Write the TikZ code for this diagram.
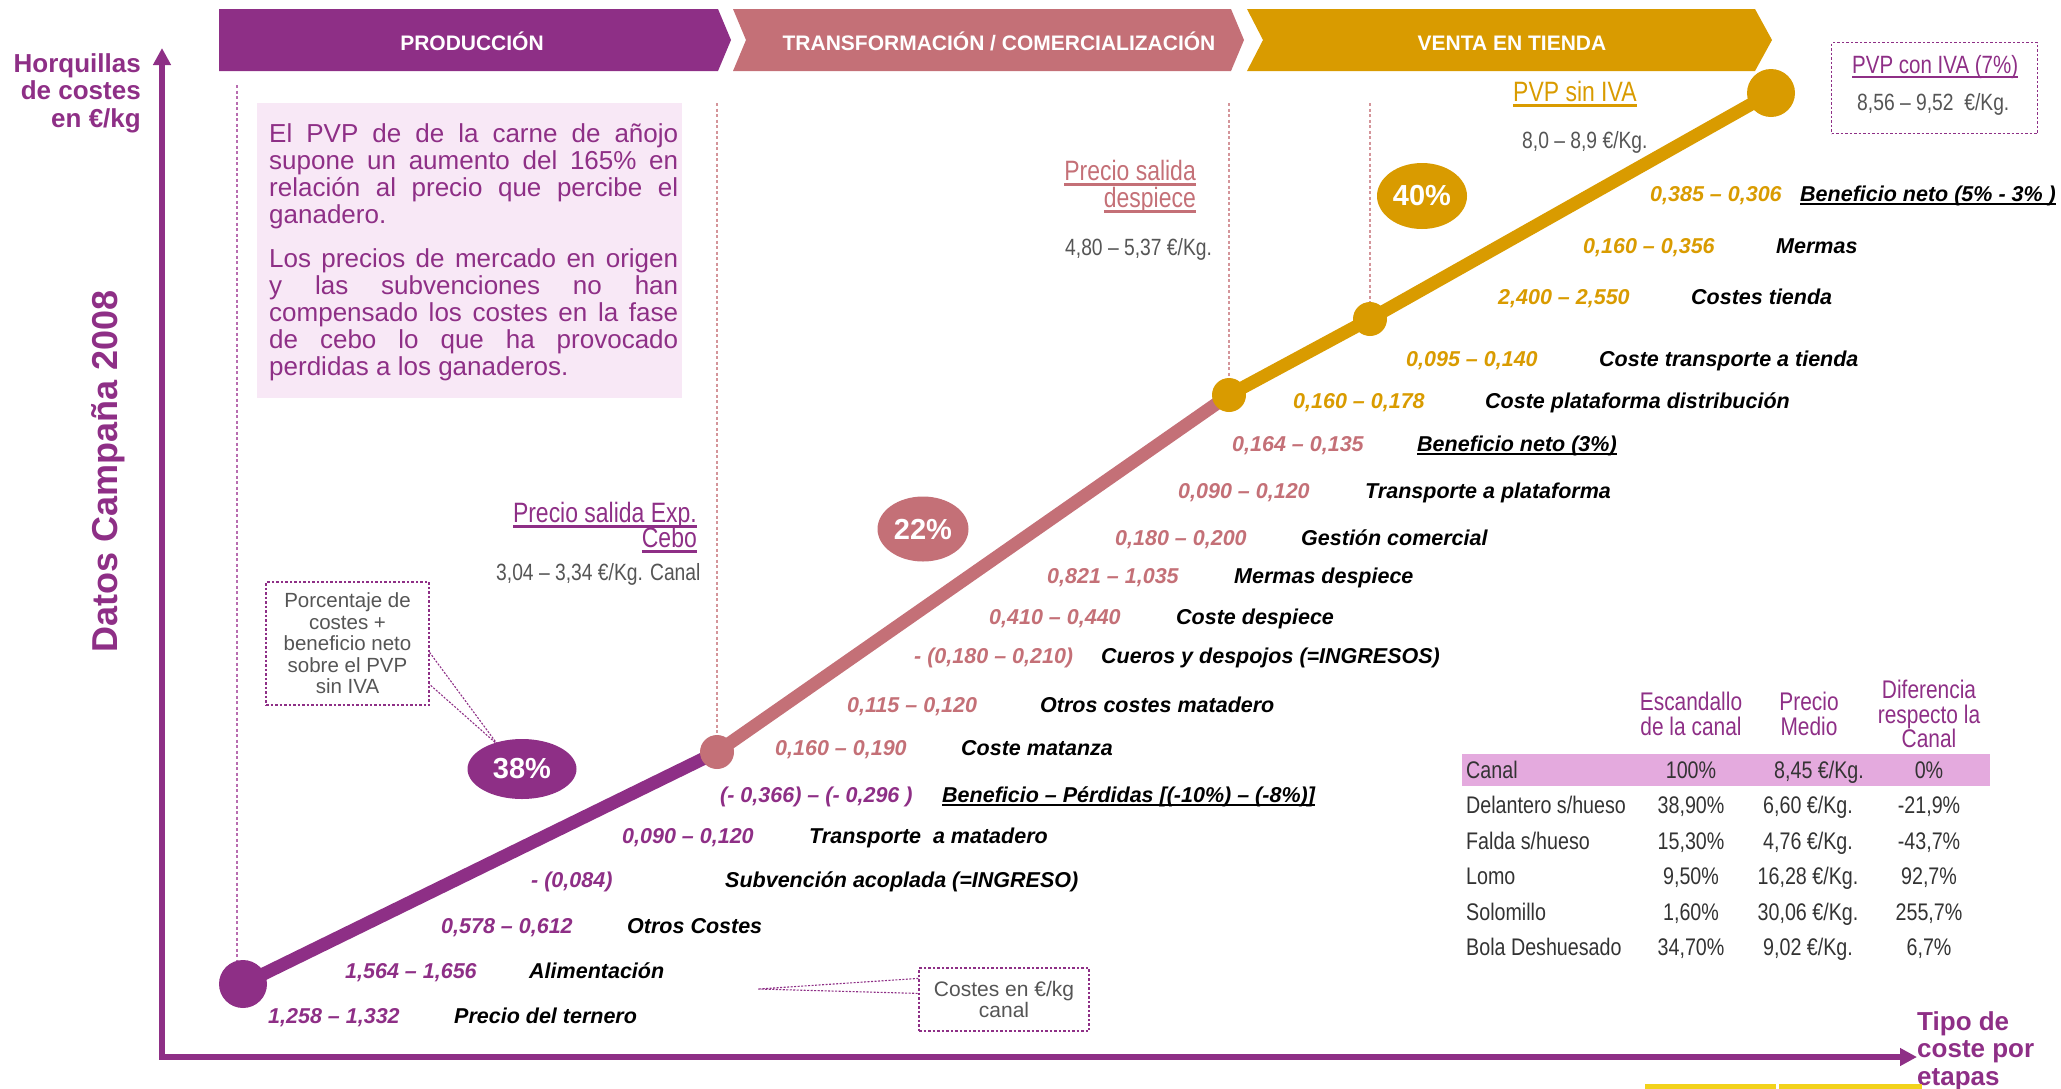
\documentclass[tikz,border=0pt]{standalone}
\usepackage{fontspec}
\setmainfont{Liberation Sans}
\newfontfamily\nfont[FakeStretch=0.82]{Liberation Sans}
\usetikzlibrary{arrows.meta,shapes.geometric}
\definecolor{cP}{HTML}{8E2F86}
\definecolor{cK}{HTML}{C47077}
\definecolor{cG}{HTML}{D99B00}
\definecolor{boxfill}{HTML}{F8E8F6}
\definecolor{rowfill}{HTML}{E4AADE}
\definecolor{gtxt}{HTML}{555555}
\definecolor{ttxt}{HTML}{333333}
\definecolor{guideP}{HTML}{B86DB0}
\definecolor{guideK}{HTML}{D4959A}
\definecolor{yel}{HTML}{F2D21B}
\newsavebox\ulbox
\newcommand\myul[1]{\sbox\ulbox{#1}\rlap{\rule[-0.2em]{\wd\ulbox}{0.1em}}\usebox\ulbox}
\pgfdeclarelayer{bg}
\pgfsetlayers{bg,main}
\tikzset{
  bannertxt/.style={font=\fontsize{21}{24}\selectfont\bfseries, text=white, inner sep=0, anchor=base},
  numtxt/.style={font=\fontsize{21.5}{24}\selectfont\bfseries\itshape, inner sep=0, anchor=base west},
  labtxt/.style={numtxt, text=black},
  chaindot/.style={circle, inner sep=0, minimum size=#1},
  pct/.style={ellipse, inner sep=0, text=white, font=\fontsize{29}{32}\selectfont\bfseries},
  guide/.style={line width=1.2pt, dash pattern=on 3pt off 2.5pt},
  chain/.style={line width=13pt},
  callout/.style={draw=cP, line width=1.2pt, dash pattern=on 2.5pt off 2pt, fill=white, inner sep=0},
  calloutline/.style={draw=cP, line width=1.1pt, dash pattern=on 2pt off 1.5pt},
  graytxt/.style={font=\fontsize{23.5}{26}\selectfont\nfont, text=gtxt, inner sep=0, anchor=base west},
  headtxt/.style={font=\fontsize{28}{30}\selectfont\nfont, inner sep=0},
  boxtxt/.style={font=\fontsize{26}{27}\selectfont, text=cP, inner sep=0, anchor=base west},
  tabhead/.style={font=\fontsize{25.5}{24.5}\selectfont\nfont, text=cP, inner sep=0, align=center, anchor=north},
  tabcell/.style={font=\fontsize{24}{26}\selectfont\nfont, text=ttxt, inner sep=0, anchor=base},
  axistxt/.style={font=\fontsize{26}{27.5}\selectfont\bfseries, text=cP, inner sep=0},
}
\begin{document}
\begin{tikzpicture}[x=1pt,y=-1pt]
\useasboundingbox (0,0) rectangle (2061,1088);

% ---------- banners
\fill[cP] (219,9) -- (718,9) -- (731,40) -- (718,71) -- (219,71) -- cycle;
\fill[cK] (733,9) -- (1231,9) -- (1244,40) -- (1231,71) -- (733,71) -- (746,40) -- cycle;
\fill[cG] (1247,9) -- (1755,9) -- (1772,40) -- (1755,71) -- (1247,71) -- (1263,40) -- cycle;
\node[bannertxt] (bn1) at (472,50) {PRODUCCIÓN};
\node[bannertxt] (bn2) at (999,50) {TRANSFORMACIÓN / COMERCIALIZACIÓN};
\node[bannertxt] (bn3) at (1512,50) {VENTA EN TIENDA};

% ---------- axes
\coordinate (origin) at (162,1057);
\coordinate (ytop) at (162,48);
\coordinate (xend) at (1917,1057);
\draw[cP, line width=6pt, line join=miter, {Triangle[length=17pt,width=17pt]}-{Triangle[length=17pt,width=17pt]}] (ytop) -- (origin) -- (xend);
\node[axistxt, align=right, anchor=north east] (ylab) at (141,53) {Horquillas\\de costes\\en €/kg};
\node[axistxt, align=left, anchor=north west] (xlab) at (1917,1011) {Tipo de\\coste por\\etapas};
\node[font=\fontsize{36}{40}\selectfont\bfseries, text=cP, rotate=90, inner sep=0] (title) at (108,471) {Datos Campaña 2008};

% ---------- text box
\node[fill=boxfill, minimum width=425pt, minimum height=295pt, anchor=north west, inner sep=0] (pbox) at (257,103) {};
\node[boxtxt] (b1) at (269,142) {\makebox[409pt][s]{El PVP de de la carne de añojo}};
\node[boxtxt] (b2) at (269,169) {\makebox[409pt][s]{supone un aumento del 165\% en}};
\node[boxtxt] (b3) at (269,196) {\makebox[409pt][s]{relación al precio que percibe el}};
\node[boxtxt] (b4) at (269,223) {ganadero.};
\node[boxtxt] (b5) at (269,267) {\makebox[409pt][s]{Los precios de mercado en origen}};
\node[boxtxt] (b6) at (269,294) {\makebox[409pt][s]{y las subvenciones no han}};
\node[boxtxt] (b7) at (269,321) {\makebox[409pt][s]{compensado los costes en la fase}};
\node[boxtxt] (b8) at (269,348) {\makebox[409pt][s]{de cebo lo que ha provocado}};
\node[boxtxt] (b9) at (269,375) {perdidas a los ganaderos.};

% ---------- chain dots
\node[chaindot=48pt, fill=cP] (d0) at (243,984) {};
\node[chaindot=34pt, fill=cK] (d1) at (717,752) {};
\node[chaindot=34pt, fill=cG] (d2) at (1229,395) {};
\node[chaindot=34pt, fill=cG] (d3) at (1370,319) {};
\node[chaindot=48pt, fill=cG] (d4) at (1771,93) {};

\coordinate (g0) at (237,85);
\coordinate (g1) at (717,103);
\coordinate (g2) at (1229,103);
\coordinate (g3) at (1370,103);

% ---------- percentage ellipses
\node[pct, fill=cP, minimum width=109pt, minimum height=60pt] (p38) at (522,769) {38\%};
\node[pct, fill=cK, minimum width=91pt, minimum height=65pt] (p22) at (923,529) {22\%};
\node[pct, fill=cG, minimum width=90pt, minimum height=66pt] (p40) at (1422,196) {40\%};

% ---------- callouts
\node[callout, minimum width=163pt, minimum height=123pt, align=center, font=\fontsize{20.5}{21.5}\selectfont, text=gtxt] (cb1) at (347.5,643.5) {Porcentaje de\\costes +\\beneficio neto\\sobre el PVP\\sin IVA};
\coordinate (tip1) at (498,745);
\node[callout, minimum width=170pt, minimum height=63pt, align=center, font=\fontsize{21}{20.5}\selectfont, text=gtxt] (cb2) at (1004,999.5) {Costes en €/kg\\canal};
\coordinate (tip2) at (758,989);
\node[callout, minimum width=206pt, minimum height=91pt, anchor=north west] (cb3) at (1831,42) {};
\node[headtxt, font=\fontsize{25}{28}\selectfont\nfont, text=cP, anchor=base west] (pc1) at (1852,73) {\myul{PVP con IVA (7\%)}};
\node[graytxt] (pc2) at (1857,110) {8,56 – 9,52\ \ €/Kg.};

% ---------- background layer: lines
\begin{pgfonlayer}{bg}
  \draw[guide, guideP] (g0) -- (g0 |- d0.north);
  \draw[guide, guideK] (g1) -- (g1 |- d1.north);
  \draw[guide, guideK] (g2) -- (g2 |- d2.north);
  \draw[guide, guideK] (g3) -- (g3 |- d3.north);
  \draw[chain, cP] (d0.center) -- (d1.center);
  \draw[chain, cK] (d1.center) -- (d2.center);
  \draw[chain, cG] (d2.center) -- (d3.center) -- (d4.center);
  \draw[calloutline] ([yshift=-71pt]cb1.north east) -- (tip1) -- ([yshift=-103pt]cb1.north east);
  \draw[calloutline] ([yshift=-11pt]cb2.north west) -- (tip2) -- ([yshift=-26pt]cb2.north west);
\end{pgfonlayer}

% ---------- price labels
\node[headtxt, text=cP, anchor=base east] (pe1) at (697,522) {\myul{Precio salida Exp.}};
\node[headtxt, text=cP, anchor=base east] (pe2) at (697,547) {\myul{Cebo}};
\node[graytxt] (pe3) at (496,580) {3,04 – 3,34 €/Kg. Canal};
\node[headtxt, text=cK, anchor=base east] (ps1) at (1196,180) {\myul{Precio salida}};
\node[headtxt, text=cK, anchor=base east] (ps2) at (1196,207) {\myul{despiece}};
\node[graytxt] (ps3) at (1065,255) {4,80 – 5,37 €/Kg.};
\node[headtxt, text=cG, anchor=base west] (pv1) at (1513,101) {\myul{PVP sin IVA}};
\node[graytxt] (pv2) at (1522,148) {8,0 – 8,9 €/Kg.};

% ---------- cost items
\node[numtxt, text=cP] (n1) at (268,1023) {1,258 – 1,332};
\node[labtxt] (l1) at (454,1023) {Precio del ternero};
\node[numtxt, text=cP] (n2) at (345,978) {1,564 – 1,656};
\node[labtxt] (l2) at (529,978) {Alimentación};
\node[numtxt, text=cP] (n3) at (441,933) {0,578 – 0,612};
\node[labtxt] (l3) at (627,933) {Otros Costes};
\node[numtxt, text=cP] (n4) at (531,887) {- (0,084)};
\node[labtxt] (l4) at (725,887) {Subvención acoplada (=INGRESO)};
\node[numtxt, text=cP] (n5) at (622,843) {0,090 – 0,120};
\node[labtxt] (l5) at (809,843) {Transporte\ \ a matadero};
\node[numtxt, text=cP] (n6) at (720,802) {(- 0,366) – (- 0,296 )};
\node[labtxt] (l6) at (942,802) {\myul{Beneficio – Pérdidas [(-10\%) – (-8\%)]}};
\node[numtxt, text=cK] (n7) at (775,755) {0,160 – 0,190};
\node[labtxt] (l7) at (961,755) {Coste matanza};
\node[numtxt, text=cK] (n8) at (847,712) {0,115 – 0,120};
\node[labtxt] (l8) at (1040,712) {Otros costes matadero};
\node[numtxt, text=cK] (n9) at (914,663) {- (0,180 – 0,210)};
\node[labtxt] (l9) at (1101,663) {Cueros y despojos (=INGRESOS)};
\node[numtxt, text=cK] (n10) at (989,624) {0,410 – 0,440};
\node[labtxt] (l10) at (1176,624) {Coste despiece};
\node[numtxt, text=cK] (n11) at (1047,583) {0,821 – 1,035};
\node[labtxt] (l11) at (1234,583) {Mermas despiece};
\node[numtxt, text=cK] (n12) at (1115,545) {0,180 – 0,200};
\node[labtxt] (l12) at (1301,545) {Gestión comercial};
\node[numtxt, text=cK] (n13) at (1178,498) {0,090 – 0,120};
\node[labtxt] (l13) at (1365,498) {Transporte a plataforma};
\node[numtxt, text=cK] (n14) at (1232,451) {0,164 – 0,135};
\node[labtxt] (l14) at (1417,451) {\myul{Beneficio neto (3\%)}};
\node[numtxt, text=cG] (n15) at (1293,408) {0,160 – 0,178};
\node[labtxt] (l15) at (1485,408) {Coste plataforma distribución};
\node[numtxt, text=cG] (n16) at (1406,366) {0,095 – 0,140};
\node[labtxt] (l16) at (1599,366) {Coste transporte a tienda};
\node[numtxt, text=cG] (n17) at (1498,304) {2,400 – 2,550};
\node[labtxt] (l17) at (1691,304) {Costes tienda};
\node[numtxt, text=cG] (n18) at (1583,253) {0,160 – 0,356};
\node[labtxt] (l18) at (1776,253) {Mermas};
\node[numtxt, text=cG] (n19) at (1650,201) {0,385 – 0,306};
\node[labtxt] (l19) at (1800,201) {\myul{Beneficio neto (5\% - 3\% )}};

% ---------- table
\node[tabhead] (h1) at (1691,692) {Escandallo\\de la canal};
\node[tabhead] (h2) at (1809,692) {Precio\\Medio};
\node[tabhead] (h3) at (1929,680) {Diferencia\\respecto la\\Canal};
\fill[rowfill] (1462,754) rectangle (1990,786);
\node[tabcell, anchor=base west] (t11) at (1466,778) {Canal};
\node[tabcell] (t12) at (1691,778) {100\%};
\node[tabcell] (t13) at (1819,778) {8,45 €/Kg.};
\node[tabcell] (t14) at (1929,778) {0\%};
\node[tabcell, anchor=base west] (t21) at (1466,813.5) {Delantero s/hueso};
\node[tabcell] (t22) at (1691,813.5) {38,90\%};
\node[tabcell] (t23) at (1808,813.5) {6,60 €/Kg.};
\node[tabcell] (t24) at (1929,813.5) {-21,9\%};
\node[tabcell, anchor=base west] (t31) at (1466,849) {Falda s/hueso};
\node[tabcell] (t32) at (1691,849) {15,30\%};
\node[tabcell] (t33) at (1808,849) {4,76 €/Kg.};
\node[tabcell] (t34) at (1929,849) {-43,7\%};
\node[tabcell, anchor=base west] (t41) at (1466,884.5) {Lomo};
\node[tabcell] (t42) at (1691,884.5) {9,50\%};
\node[tabcell] (t43) at (1808,884.5) {16,28 €/Kg.};
\node[tabcell] (t44) at (1929,884.5) {92,7\%};
\node[tabcell, anchor=base west] (t51) at (1466,920) {Solomillo};
\node[tabcell] (t52) at (1691,920) {1,60\%};
\node[tabcell] (t53) at (1808,920) {30,06 €/Kg.};
\node[tabcell] (t54) at (1929,920) {255,7\%};
\node[tabcell, anchor=base west] (t61) at (1466,955.5) {Bola Deshuesado};
\node[tabcell] (t62) at (1691,955.5) {34,70\%};
\node[tabcell] (t63) at (1808,955.5) {9,02 €/Kg.};
\node[tabcell] (t64) at (1929,955.5) {6,7\%};

% ---------- bottom strip
\fill[yel] (1645,1084) rectangle (1776,1090);
\fill[yel] (1779,1084) rectangle (1922,1090);
\end{tikzpicture}
\end{document}
